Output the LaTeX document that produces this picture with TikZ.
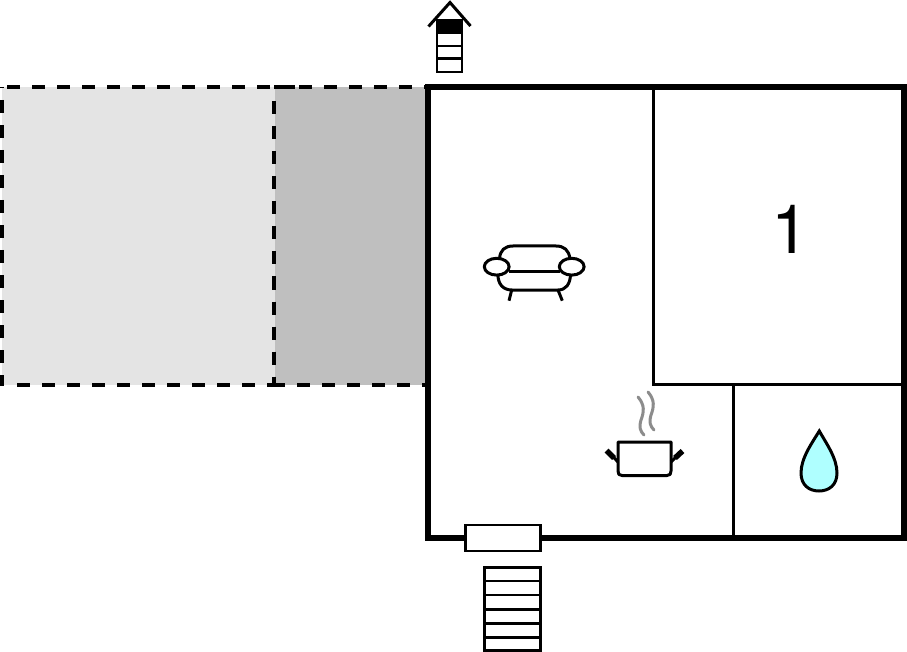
\documentclass[tikz,border=0pt]{standalone}
\usepackage{fontspec}
\newfontfamily\numfont{TeX Gyre Heros}
\tikzset{
  wall/.style={draw=black,line width=6.4pt,line join=miter},
  inner/.style={draw=black,line width=3pt},
  icon/.style={draw=black,line width=3pt,line join=round},
  stair/.style={draw=black,line width=2.6pt,line join=miter},
  steam/.style={draw=black!45,line width=3pt,line cap=round},
  dashline/.style={draw=black,line width=4pt,dash pattern=on 13pt off 12pt}
}
\begin{document}
\begin{tikzpicture}[x=1pt,y=-1pt]
\useasboundingbox (0,0) rectangle (907,652);
% terrace fills
\fill[black!10.5] (2,87) rectangle (275,385);
\fill[black!25] (275,87) rectangle (428,385);
% terrace dashes
\draw[dashline] (7,87) -- (295,87);
\draw[dashline] (274,87) -- (425,87);
\draw[dashline] (17,385) -- (285,385);
\draw[dashline] (272,385) -- (425,385);
\draw[dashline,dash phase=12pt] (1.5,87) -- (1.5,386);
\draw[dashline] (274,101.5) -- (274,385);
% interior walls
\draw[inner] (653.7,87) -- (653.7,384) -- (904,384);
\draw[inner] (733.7,384) -- (733.7,538);
% outer wall
\draw[wall] (428,87) rectangle (904,538);
% top stairs
\fill[black] (436,20) rectangle (463,33);
\draw[stair,fill=white] (437,33) rectangle (462,72);
\draw[stair] (437,20) rectangle (462,33);
\draw[stair] (437,46) -- (462,46) (437,58.7) -- (462,58.7);
\draw[icon,line join=miter] (428.5,26.5) -- (450,2.5) -- (470.5,26);
% door and bottom stairs
\draw[stair,fill=white] (465.5,525) rectangle (540.5,551);
\draw[stair,fill=white] (484.5,567.5) rectangle (540.5,650.5);
\draw[stair] (484.5,581) -- (540.5,581) (484.5,595) -- (540.5,595) (484.5,609.3) -- (540.5,609.3)
  (484.5,623.7) -- (540.5,623.7) (484.5,637.7) -- (540.5,637.7);
% sofa
\draw[icon] (499.5,259) .. controls (500,250) and (505,246) .. (513,246) -- (556,246)
  .. controls (564,246) and (569,250) .. (570,259);
\draw[icon] (498,275) .. controls (498,284) and (503,290) .. (512,290) -- (558,290)
  .. controls (566,290) and (570,284) .. (570.5,275);
\draw[icon] (509,272) -- (560,272);
\draw[icon] (511.7,290) -- (509,300.7) (558,290) -- (562.3,300.7);
\draw[icon] (496.7,266.7) ellipse [x radius=12.4pt,y radius=8.4pt];
\draw[icon] (571.7,266.7) ellipse [x radius=12.4pt,y radius=8.4pt];
% pot
\draw[icon] (618,442) -- (671,442) -- (671,471) .. controls (671,474) and (670,475.5) .. (667,475.5)
  -- (622,475.5) .. controls (619,475.5) and (618,474) .. (618,471) -- cycle;
\draw[icon] (618,462) -- (611,454.5) (671,462) -- (678,455);
\draw[draw=black,line width=5.5pt] (614,458) -- (606.5,450.5) (675,458) -- (682.5,451);
\draw[steam] (638,397) .. controls (645,405) and (644,412) .. (641,420) .. controls (639,427) and (640,431) .. (644,435);
\draw[steam] (648,392) .. controls (655,400) and (654,407) .. (651,415) .. controls (649,422) and (650,426) .. (654,430);
% drop
\draw[icon,fill={rgb,255:red,175;green,255;blue,255},line join=miter] (819.3,431) .. controls (812,443) and (801,458) .. (801,473)
  .. controls (801,485) and (809,491) .. (819,491) .. controls (829,491) and (837,485) .. (837,473)
  .. controls (837,458) and (826,443) .. (819.3,431) -- cycle;
% room number
\node[anchor=base,inner sep=0pt,font=\numfont\fontsize{68pt}{68pt}\selectfont] (roomnum) at (790,253.3) {1};
\end{tikzpicture}
\end{document}
